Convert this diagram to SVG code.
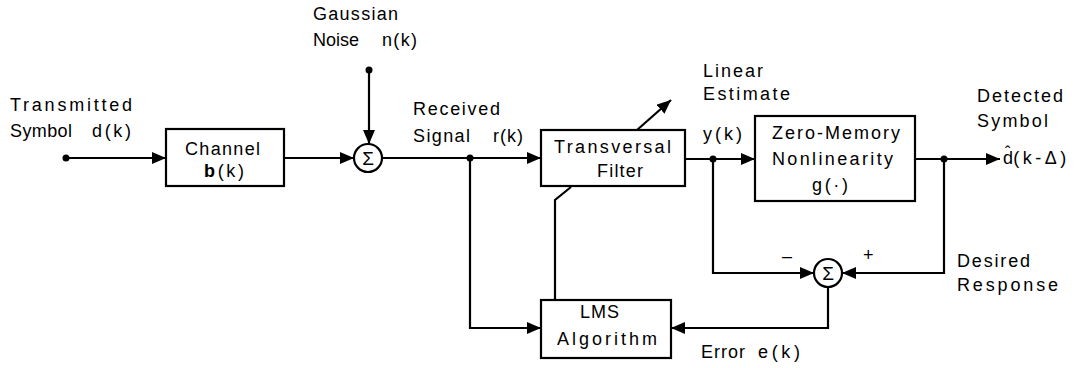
<svg xmlns="http://www.w3.org/2000/svg" width="1078" height="368" viewBox="0 0 1078 368">
<style>
text{font-family:"Liberation Sans",Arial,sans-serif;font-size:18px;fill:#000}
.c{text-anchor:middle}
.box{fill:#fff;stroke:#000;stroke-width:2.2}
.ln{fill:none;stroke:#000;stroke-width:2.2}
.dot{fill:#000}
.sig{font-size:19px}
</style>
<defs>
<marker id="ah" viewBox="0 0 14 12" refX="14" refY="6" markerWidth="14" markerHeight="12" markerUnits="userSpaceOnUse" orient="auto">
<path d="M0,0 L14,6 L0,12 Z" fill="#000"/>
</marker>
</defs>
<rect width="1078" height="368" fill="#fff"/>

<g id="connectors">
<line class="ln" x1="66" y1="158" x2="166" y2="158" marker-end="url(#ah)"/>
<line class="ln" x1="284" y1="158" x2="354" y2="158" marker-end="url(#ah)"/>
<line class="ln" x1="369" y1="70" x2="369" y2="144" marker-end="url(#ah)"/>
<line class="ln" x1="382" y1="158" x2="541" y2="158" marker-end="url(#ah)"/>
<polyline class="ln" points="470,158 470,328 541,328" marker-end="url(#ah)"/>
<line class="ln" x1="637" y1="130" x2="671" y2="100" marker-end="url(#ah)"/>
<polyline class="ln" points="571,187 555,200 555,300"/>
<line class="ln" x1="685" y1="159" x2="755" y2="159" marker-end="url(#ah)"/>
<line class="ln" x1="915" y1="159" x2="1000" y2="159" marker-end="url(#ah)"/>
<polyline class="ln" points="713,159 713,273 814,273" marker-end="url(#ah)"/>
<polyline class="ln" points="944,159 944,273 842,273" marker-end="url(#ah)"/>
<polyline class="ln" points="828,287 828,328 671,328" marker-end="url(#ah)"/>
<circle class="dot" cx="66" cy="158" r="3.5"/>
<circle class="dot" cx="369" cy="70" r="3.5"/>
<circle class="dot" cx="470" cy="158" r="3.5"/>
<circle class="dot" cx="713" cy="159" r="3.5"/>
<circle class="dot" cx="944" cy="159" r="3.5"/>
<text x="782" y="262">–</text>
<text x="863" y="261">+</text>
</g>

<g id="channel">
<rect class="box" x="166" y="129" width="118" height="57"/>
<text x="185" y="155" textLength="75" lengthAdjust="spacing">Channel</text>
<text x="204" y="177" textLength="40" lengthAdjust="spacing"><tspan font-weight="bold">b</tspan>(k)</text>
</g>

<g id="sum1">
<circle class="box" cx="368" cy="158" r="14"/>
<text class="c sig" x="368" y="165">Σ</text>
</g>

<g id="filter">
<rect class="box" x="541" y="130" width="144" height="56"/>
<text x="554" y="153" textLength="117" lengthAdjust="spacing">Transversal</text>
<text x="597" y="177" textLength="46" lengthAdjust="spacing">Filter</text>
</g>

<g id="nonlinearity">
<rect class="box" x="755" y="116" width="160" height="85"/>
<text x="772" y="139" textLength="128" lengthAdjust="spacing">Zero-Memory</text>
<text x="772" y="165" textLength="121" lengthAdjust="spacing">Nonlinearity</text>
<text x="812" y="191" textLength="36" lengthAdjust="spacing">g(·)</text>
</g>

<g id="lms">
<rect class="box" x="541" y="300" width="130" height="58"/>
<text x="580" y="318" textLength="39" lengthAdjust="spacing">LMS</text>
<text x="557" y="345" textLength="100" lengthAdjust="spacing">Algorithm</text>
</g>

<g id="sum2">
<circle class="box" cx="828" cy="273" r="14"/>
<text class="c sig" x="828" y="280">Σ</text>
</g>

<g id="labels">
<text x="10" y="111" textLength="122" lengthAdjust="spacing">Transmitted</text>
<text x="10" y="137" textLength="62" lengthAdjust="spacing">Symbol</text>
<text x="92" y="137" textLength="39" lengthAdjust="spacing">d(k)</text>
<text x="313" y="20" textLength="85" lengthAdjust="spacing">Gaussian</text>
<text x="313" y="46">Noise</text>
<text x="382" y="46" textLength="35" lengthAdjust="spacing">n(k)</text>
<text x="413" y="115" textLength="87" lengthAdjust="spacing">Received</text>
<text x="413" y="142" textLength="57" lengthAdjust="spacing">Signal</text>
<text x="493" y="142" textLength="30" lengthAdjust="spacing">r(k)</text>
<text x="703" y="77" textLength="60" lengthAdjust="spacing">Linear</text>
<text x="703" y="100" textLength="87" lengthAdjust="spacing">Estimate</text>
<text x="703" y="140" textLength="39" lengthAdjust="spacing">y(k)</text>
<text x="977" y="102" textLength="86" lengthAdjust="spacing">Detected</text>
<text x="977" y="127" textLength="71" lengthAdjust="spacing">Symbol</text>
<text x="1003" y="164">d<tspan dx="-8" dy="-6" font-size="16">ˆ</tspan><tspan dx="3" dy="6" letter-spacing="3.5">(k-Δ)</tspan></text>
<text x="957" y="267" textLength="73" lengthAdjust="spacing">Desired</text>
<text x="957" y="291" textLength="101" lengthAdjust="spacing">Response</text>
<text x="701" y="358" textLength="44" lengthAdjust="spacing">Error</text>
<text x="758" y="358" textLength="42" lengthAdjust="spacing">e(k)</text>
</g>
</svg>
